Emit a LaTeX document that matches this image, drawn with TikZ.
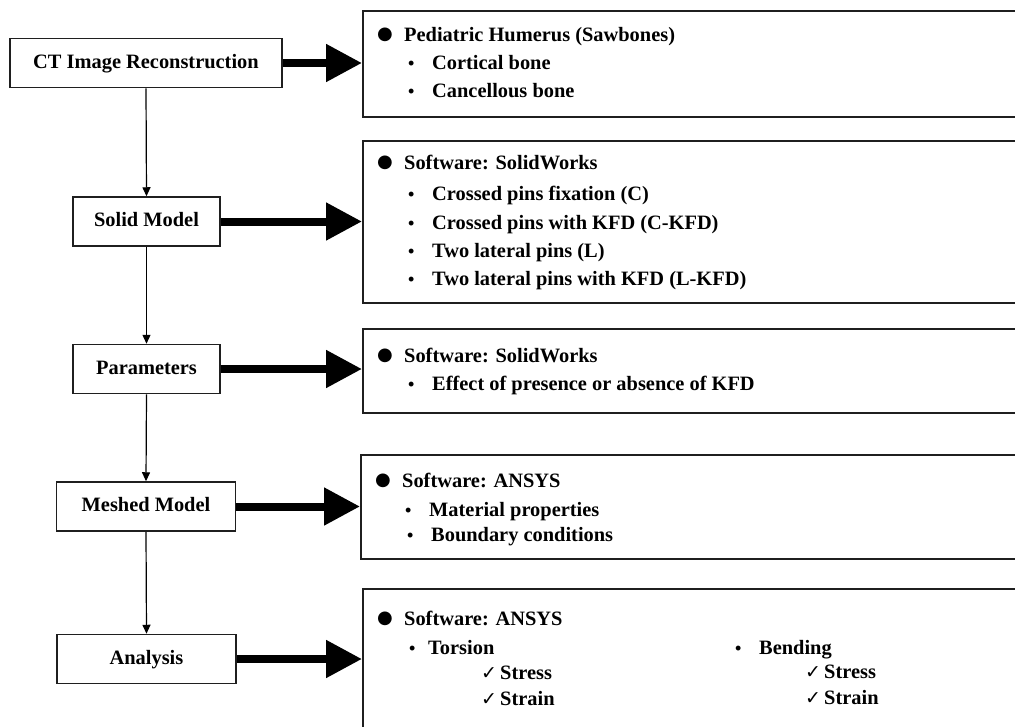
\documentclass[tikz,border=0pt]{standalone}
\usepackage{fontspec}
\setmainfont{Liberation Serif}
\newfontfamily\symfont{DejaVu Sans}
\usetikzlibrary{arrows.meta}
\newcommand{\fs}{\fontsize{20.4}{24}\selectfont\bfseries}
\newcommand{\bigb}{\makebox[27pt][l]{\raisebox{1.5pt}{\fontsize{18}{18}\selectfont\symfont ●}}}
\newcommand{\smb}{\makebox[24pt][l]{\fontsize{18}{18}\selectfont •}}
\newcommand{\chk}{\makebox[19pt][l]{\fontsize{19}{18}\selectfont\symfont ✓}}
\tikzset{
  lbox/.style={draw=black!88, line width=1.5pt, minimum height=49pt, inner sep=0pt, font=\fs, text height=14pt, text depth=4pt},
  rbox/.style={draw=black!88, line width=1.6pt, anchor=north west, inner sep=0pt, minimum width=663pt},
  txt/.style={anchor=base west, inner sep=0pt, font=\fs},
  thinarrow/.style={line width=1.2pt, -{Triangle[length=9pt,width=8pt]}},
  thickarrow/.style={line width=8pt, -{Triangle[length=36pt,width=36pt]}}
}
\begin{document}
\begin{tikzpicture}[x=1pt,y=-1pt]
\useasboundingbox (0,0) rectangle (1015,726);
% left boxes
\node[lbox, minimum width=272pt] (ct) at (146,63) {CT Image Reconstruction};
\node[lbox, minimum width=147pt] (sm) at (146.5,221.5) {Solid Model};
\node[lbox, minimum width=147pt] (pa) at (146.5,369) {Parameters};
\node[lbox, minimum width=179pt] (mm) at (146,506.5) {Meshed Model};
\node[lbox, minimum width=179pt] (an) at (146.5,659) {Analysis};
% right boxes
\node[rbox, minimum height=106pt] (r1) at (362,10) {};
\node[rbox, minimum height=162pt] (r2) at (362,140) {};
\node[rbox, minimum height=84pt] (r3) at (362,328) {};
\node[rbox, minimum height=104pt] (r4) at (360,454) {};
\node[rbox, minimum height=152pt] (r5) at (362,588) {};
% vertical connectors
\draw[thinarrow] (ct.south) -- (sm.north);
\draw[thinarrow] (sm.south) -- (pa.north);
\draw[thinarrow] (pa.south) -- (mm.north);
\draw[thinarrow] (mm.south) -- (an.north);
% thick arrows
\draw[thickarrow] (ct.east) -- (ct.east -| r1.west);
\draw[thickarrow] (sm.east) -- (sm.east -| r2.west);
\draw[thickarrow] (pa.east) -- (pa.east -| r3.west);
\draw[thickarrow] (mm.east) -- (mm.east -| r4.west);
\draw[thickarrow] (an.east) -- (an.east -| r5.west);
% box 1 texts
\node[txt] (t11) at (377,41) {\bigb Pediatric Humerus (Sawbones)};
\node[txt] (t12) at (408,69) {\smb Cortical bone};
\node[txt] (t13) at (408,97) {\smb Cancellous bone};
% box 2 texts
\node[txt] (t21) at (377,169) {\bigb Software: SolidWorks};
\node[txt] (t22) at (408,200) {\smb Crossed pins fixation (C)};
\node[txt] (t23) at (408,229) {\smb Crossed pins with KFD (C-KFD)};
\node[txt] (t24) at (408,257) {\smb Two lateral pins (L)};
\node[txt] (t25) at (408,285) {\smb Two lateral pins with KFD (L-KFD)};
% box 3 texts
\node[txt] (t31) at (377,362) {\bigb Software: SolidWorks};
\node[txt] (t32) at (408,390) {\smb Effect of presence or absence of KFD};
% box 4 texts
\node[txt] (t41) at (375,487) {\bigb Software: ANSYS};
\node[txt] (t42) at (405,516) {\smb Material properties};
\node[txt] (t43) at (407,541) {\smb Boundary conditions};
% box 5 texts
\node[txt] (t51) at (377,625) {\bigb Software: ANSYS};
\node[txt] (t52) at (409,654) {\makebox[19pt][l]{\fontsize{18}{18}\selectfont •}Torsion};
\node[txt] (t53) at (481,679) {\chk Stress};
\node[txt] (t54) at (481,705) {\chk Strain};
\node[txt] (t55) at (735,654) {\smb Bending};
\node[txt] (t56) at (805,678) {\chk Stress};
\node[txt] (t57) at (805,704) {\chk Strain};
\end{tikzpicture}
\end{document}
